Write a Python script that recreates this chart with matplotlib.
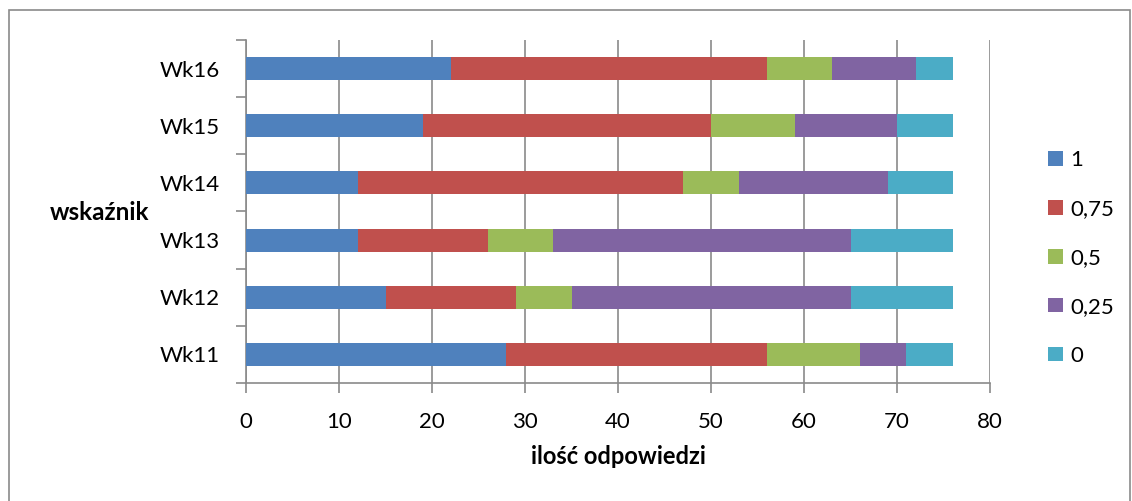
import matplotlib
matplotlib.use("Agg")
import matplotlib.pyplot as plt
from matplotlib.patches import Rectangle
import numpy as np

categories = ["Wk11", "Wk12", "Wk13", "Wk14", "Wk15", "Wk16"]
series_labels = ["1", "0,75", "0,5", "0,25", "0"]
s_1 = [28, 15, 12, 12, 19, 22]
s_075 = [28, 14, 14, 35, 31, 34]
s_05 = [10, 6, 7, 6, 9, 7]
s_025 = [5, 30, 32, 16, 11, 9]
s_0 = [5, 11, 11, 7, 6, 4]
colors = ["#4F81BD", "#C0504D", "#9BBB59", "#8064A2", "#4BACC6"]
x_ticks = [0, 10, 20, 30, 40, 50, 60, 70, 80]

plt.rcParams['font.family'] = ['Lato', 'DejaVu Sans']
W, H = 1132, 501
fig = plt.figure(figsize=(W / 100, H / 100), dpi=100)
fig.patch.set_facecolor("white")

# outer chart border
fig.add_artist(Rectangle((9 / W, -0.05), (1130 - 9) / W, 1.05 - 10 / H,
                         transform=fig.transFigure, fill=False,
                         edgecolor="#8a8a8a", linewidth=1.2))

ax = fig.add_axes([246 / W, 1 - 383 / H, (990 - 246) / W, (383 - 40) / H])
y = np.arange(len(categories))
left = np.zeros(len(categories))
for vals, lab, col in zip([s_1, s_075, s_05, s_025, s_0], series_labels, colors):
    ax.barh(y, vals, left=left, height=0.4, color=col, label=lab, zorder=3)
    left += np.array(vals)

ax.set_xlim(0, 80)
ax.set_ylim(-0.5, len(categories) - 0.5)
ax.set_xticks(x_ticks)
ax.set_xticklabels([str(t) for t in x_ticks], fontsize=16)
ax.set_yticks(y)
ax.set_yticklabels(categories, fontsize=16)
ax.tick_params(axis="y", which="major", length=0, pad=19)
ax.set_yticks(np.arange(-0.5, len(categories), 1.0), minor=True)
ax.tick_params(axis="y", which="minor", length=7, width=1.2, color="#8a8a8a", direction="out")
ax.tick_params(axis="x", length=7, width=1.2, color="#8a8a8a", direction="out", pad=14)
ax.grid(axis="x", color="#8a8a8a", linewidth=1.2, zorder=0)
for s in ["top", "right"]:
    ax.spines[s].set_visible(False)
for s in ["left", "bottom"]:
    ax.spines[s].set_color("#8a8a8a")
    ax.spines[s].set_linewidth(1.2)

ax.set_xlabel("ilość odpowiedzi", fontsize=17, fontweight="bold", labelpad=9)
fig.text(100 / W, 1 - 213 / H, "wskaźnik", fontsize=17.5, fontweight="bold",
         ha="center", va="center")

handles, labels = ax.get_legend_handles_labels()
leg = fig.legend(handles, labels, loc="center left",
                 bbox_to_anchor=(1037 / W, 1 - 258 / H), frameon=False,
                 fontsize=16, handlelength=0.65, handleheight=0.65,
                 handletextpad=0.35, labelspacing=1.3, borderpad=0)

fig.savefig("out.png", dpi=100, facecolor="white")
